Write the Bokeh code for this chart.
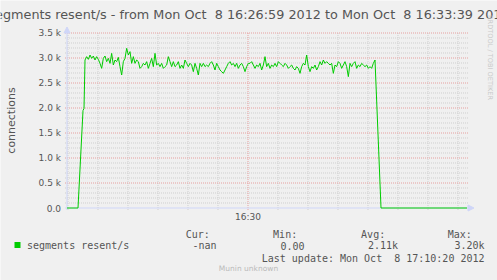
import math
from bokeh.plotting import figure
from bokeh.models import Label, Arrow, NormalHead, BoxAnnotation
from bokeh.embed import file_html
from bokeh.resources import INLINE

NB = "\u00a0"  # keeps rrdtool's double spaces visible in SVG text

# ---------------- data ----------------
title_text = ("segments resent/s - from Mon Oct " + NB + "8 16:26:59 2012 to Mon Oct "
              + NB + "8 16:33:39 2012")
series_name = "segments resent/s"
y_label = "connections"
y_ticks = [0, 500, 1000, 1500, 2000, 2500, 3000, 3500]
y_tick_labels = ["0.0", "0.5 k", "1.0 k", "1.5 k", "2.0 k", "2.5 k", "3.0 k", "3.5 k"]
x_major_ticks = [181]            # seconds after 16:26:59
x_major_labels = ["16:30"]
stat_headers = ["Cur:", "Min:", "Avg:", "Max:"]
stat_values = ["-nan", "0.00", "2.11k", "3.20k"]
last_update = "Last update: Mon Oct " + NB + "8 17:10:20 2012"
watermark = "Munin unknown"
rrd_credit = "RRDTOOL / TOBI OETIKER"

# seconds after 16:26:59
ramp_t = [0, 11, 16, 17]
ramp_v = [0, 0, 1950, 1990]
plateau_start = 18
plateau_step = 5 / 3
plateau_v = [
    2960, 3027, 2973, 3060, 2993, 3040, 2960, 3027, 2973, 2893,
    2793, 2993, 3040, 2927, 2993, 2893, 3093, 2860, 2960, 2927,
    3013, 2827, 2660, 2927, 2993, 3193, 3060, 3127, 2893, 3027,
    2893, 2960, 2927, 2793, 2827, 2893, 2860, 2927, 2793, 2893,
    2993, 2827, 3093, 2860, 2893, 2827, 2893, 2793, 2827, 2860,
    3027, 2927, 2827, 2927, 2827, 2860, 2927, 2793, 2860, 2793,
    2960, 2893, 2827, 2893, 2860, 2727, 2893, 2793, 2660, 2893,
    2827, 2893, 2827, 2860, 2827, 2893, 2927, 2860, 2760, 2893,
    2827, 2760, 2727, 2693, 2760, 2827, 2893, 2927, 2860, 2893,
    2827, 2893, 2793, 2860, 2893, 2827, 2727, 2827, 2893,
    2893, 2927, 2860, 2793, 2860, 2827, 2893, 2760, 2860, 3027,
    2827, 2893, 2793, 2860, 2827, 2893, 2827, 2927, 2893, 2860,
    2827, 2893, 2860, 2793, 2827, 2860, 2793, 2760, 2827, 2793,
    2693, 2827, 2893, 2860, 3060, 2827, 2727, 2827, 2793, 2860,
    2760, 2827, 2927, 2860, 2960, 2893, 2927, 2893, 2860, 2893,
    2693, 2860, 2827, 2927, 2893, 2793, 2860, 2927, 2827, 2627,
    2893, 2827, 2893, 2927, 2793, 2860, 2827, 2893, 2860, 2827,
    2860, 2793, 2827, 2793, 2893, 2960,
]
tail_t = [314, 400]
tail_v = [0, 0]

plateau_t = [plateau_start + i * plateau_step for i in range(len(plateau_v))]
t_all = ramp_t + plateau_t + tail_t
v_all = ramp_v + plateau_v + tail_v

T_END = 400
V_TOP = 3500

# ---------------- layout ----------------
W, H = 497, 280
PX_ORIGIN, PY_ORIGIN = 66.5, 207.5   # pixel of (t=0, v=0)
PX_PER_T, PX_PER_V = 1.0, 1 / 20.0


def xd(px):
    return (px - PX_ORIGIN) / PX_PER_T


def yd(py):
    return (PY_ORIGIN - py) / PX_PER_V


def dx(npx):
    return npx / PX_PER_T


def dy(npx):
    return npx / PX_PER_V


BG = "#F0F0F0"
TXT = "#555555"
GRID = "#CFCFCF"
MGRID = "#E6A0A0"
AXIS = "#CFD6F8"
GREEN = "#00CC00"

p = figure(width=W, height=H, x_range=(xd(0), xd(W)), y_range=(yd(H), yd(0)),
           output_backend="svg", toolbar_location=None,
           x_axis_type=None, y_axis_type=None,
           min_border=0, background_fill_color=BG, border_fill_color=BG,
           outline_line_color=None)
p.grid.visible = False

# grid lines (rrdtool style, extend 2px past the axes as ticks)
minor_y = [v for v in range(100, V_TOP, 100) if v % 500 != 0]
major_y = y_ticks[1:]
minor_x = [s for s in range(1, T_END, 30) if s not in x_major_ticks]
gx0, gx1 = -dx(2), T_END + dx(2)
gy0, gy1 = -dy(2), V_TOP
p.segment(x0=[gx0] * len(minor_y), x1=[gx1] * len(minor_y), y0=minor_y, y1=minor_y,
          line_color=GRID, line_dash="1 1", line_width=1, level="underlay")
p.segment(x0=minor_x, x1=minor_x, y0=[gy0] * len(minor_x), y1=[gy1] * len(minor_x),
          line_color=GRID, line_dash="1 1", line_width=1, level="underlay")
p.segment(x0=[gx0] * len(major_y), x1=[gx1] * len(major_y), y0=major_y, y1=major_y,
          line_color=MGRID, line_dash="1 1", line_width=1, level="underlay")
p.segment(x0=x_major_ticks, x1=x_major_ticks, y0=[gy0] * len(x_major_ticks),
          y1=[gy1] * len(x_major_ticks),
          line_color=MGRID, line_dash="1 1", line_width=1, level="underlay")

# axes with arrows
p.add_layout(Arrow(end=NormalHead(size=6, fill_color=AXIS, line_color=AXIS),
                   x_start=0, y_start=-dy(2), x_end=0, y_end=V_TOP + dy(6),
                   line_color=AXIS, line_width=1))
p.add_layout(Arrow(end=NormalHead(size=6, fill_color=AXIS, line_color=AXIS),
                   x_start=-dx(2), y_start=0, x_end=T_END + dx(7), y_end=0,
                   line_color=AXIS, line_width=1))

# tick labels
p.text(x=[0] * len(y_ticks), y=y_ticks, text=y_tick_labels, x_offset=-6,
       text_align="right", text_baseline="middle", text_font_size="9px",
       text_font={"value": "DejaVu Sans"}, text_color=TXT)
p.text(x=x_major_ticks, y=[0] * len(x_major_ticks), text=x_major_labels, y_offset=8.5,
       text_align="center", text_baseline="middle", text_font_size="9px",
       text_font={"value": "DejaVu Sans"}, text_color=TXT)

# data line
p.line(t_all, v_all, line_color=GREEN, line_width=1, level="overlay")


def lab(px, py, text, size, font="DejaVu Sans", align="left", color=TXT, angle=0.0):
    p.add_layout(Label(x=xd(px), y=yd(py), text=text, text_font=font,
                       text_font_size=size, text_color=color, text_align=align,
                       text_baseline="middle", angle=angle))


lab(248.5, 13.5, title_text, "12.8px", align="center")
lab(11, 120, y_label, "11px", align="center", angle=math.pi / 2)
lab(489, 57, rrd_credit, "6.6px", align="center", color="#CACACA", angle=-math.pi / 2)
lab(248, 267.5, watermark, "7.5px", align="center", color="#BBBBBB")

MONO = "DejaVu Sans Mono"
p.add_layout(BoxAnnotation(left=xd(14), right=xd(20), top=yd(241.5), bottom=yd(247.5),
                           fill_color=GREEN, fill_alpha=1, line_color=None))
lab(26.5, 245, series_name, "10px", font=MONO)
head_x = [185.2, 272.6, 360.6, 447.2]
val_right = [216, 304, 397.5, 484]
for hx, h in zip(head_x, stat_headers):
    lab(hx, 233.5, h, "10px", font=MONO)
for vx, v in zip(val_right, stat_values):
    lab(vx, 245, v, "10px", font=MONO, align="right")
lab(484, 257.5, last_update, "10px", font=MONO, align="right")

open("out.html", "w").write(file_html(p, INLINE))
